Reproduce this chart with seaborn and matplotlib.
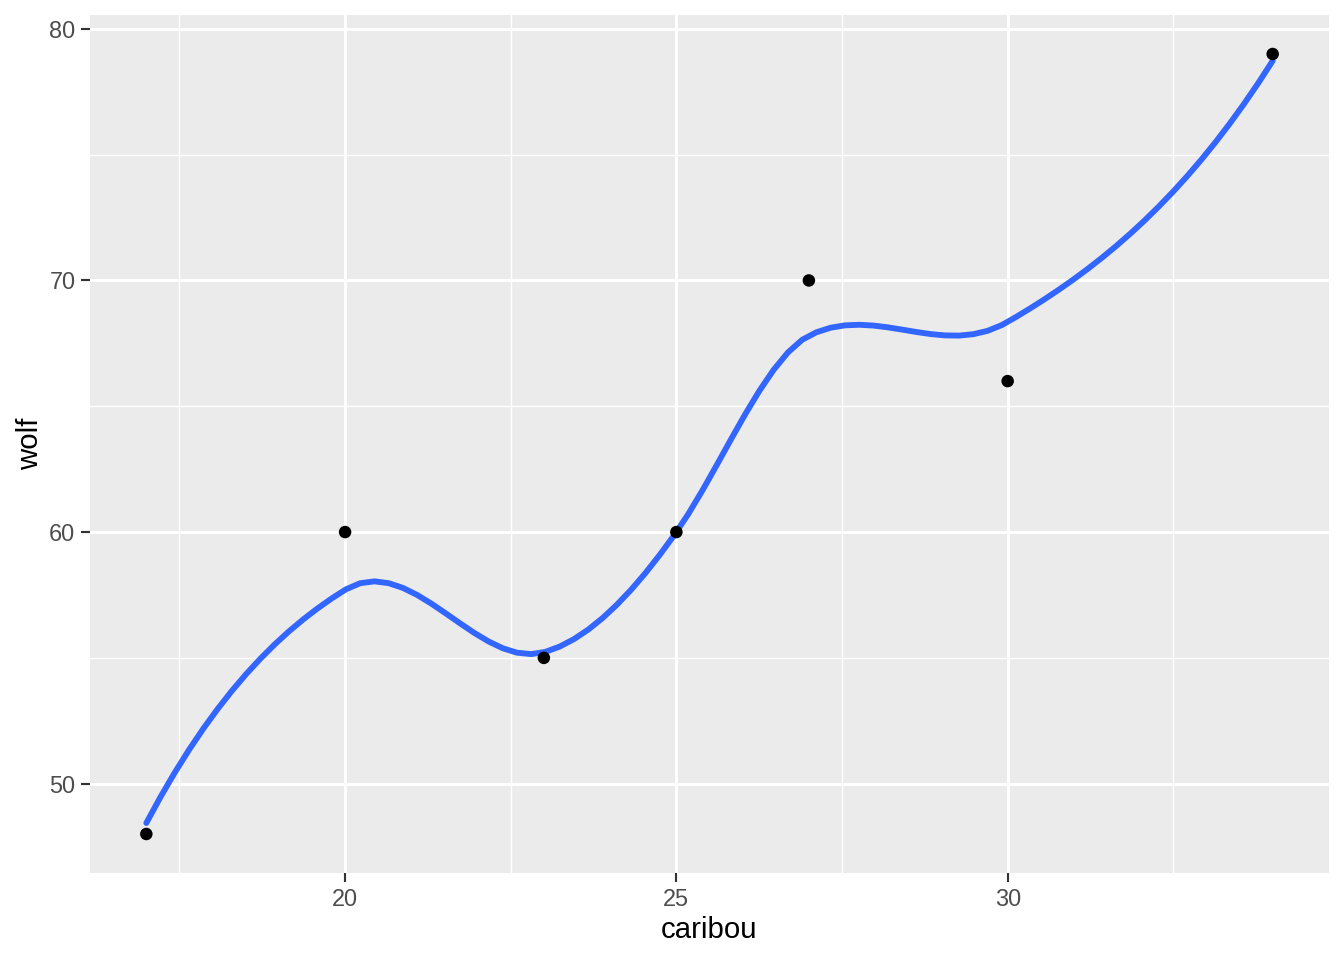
import numpy as np
import pandas as pd
import seaborn as sns
import matplotlib.pyplot as plt
from matplotlib.ticker import MultipleLocator

# data
caribou = [17, 20, 23, 25, 27, 30, 34]
wolf = [48, 60, 55, 60, 70, 66, 79]


def local_fit(x, y, x0, q):
    # weighted local quadratic, tricube weights on the q nearest points
    d = np.abs(x - x0)
    h = np.sort(d)[q - 1]
    w = np.clip(1 - (d / h) ** 3, 0, None) ** 3
    X = np.column_stack([np.ones_like(x), x - x0, (x - x0) ** 2])
    W = np.diag(w)
    beta = np.linalg.lstsq(X.T @ W @ X, X.T @ W @ y, rcond=None)[0]
    return beta[0], beta[1]


def kd_vertices(xs, fc):
    # 1-d version of the kd tree loess builds (split at median until <= fc points)
    xs = np.sort(xs)
    verts = set()

    def split(pts):
        if len(pts) <= fc:
            return
        m = (len(pts) + 1) // 2 - 1
        verts.add(pts[m])
        split(pts[:m + 1])
        split(pts[m + 1:])

    split(list(xs))
    return sorted(verts)


def loess(x, y, grid, span=0.75):
    """loess like R's default: fits at kd-tree vertices + cubic hermite interpolation"""
    x = np.asarray(x, float)
    y = np.asarray(y, float)
    n = len(x)
    q = int(np.floor(n * span))
    margin = 0.005 * (x.max() - x.min())
    fc = int(np.floor(n * span * 0.2))
    verts = [x.min() - margin] + kd_vertices(x, fc) + [x.max() + margin]
    verts = np.array(sorted(set(verts)))
    vals, slopes = zip(*[local_fit(x, y, v, q) for v in verts])
    vals, slopes = np.array(vals), np.array(slopes)
    out = []
    for g in grid:
        i = np.clip(np.searchsorted(verts, g) - 1, 0, len(verts) - 2)
        a, b = verts[i], verts[i + 1]
        hh = b - a
        t = (g - a) / hh
        h00 = 2 * t ** 3 - 3 * t ** 2 + 1
        h10 = t ** 3 - 2 * t ** 2 + t
        h01 = -2 * t ** 3 + 3 * t ** 2
        h11 = t ** 3 - t ** 2
        out.append(h00 * vals[i] + h10 * hh * slopes[i] + h01 * vals[i + 1] + h11 * hh * slopes[i + 1])
    return np.array(out)


df = pd.DataFrame({"caribou": caribou, "wolf": wolf})
grid = np.linspace(min(caribou), max(caribou), 80)
smooth = pd.DataFrame({"caribou": grid, "wolf": loess(caribou, wolf, grid)})

sns.set_theme(style="darkgrid")
plt.rcParams["font.family"] = ["Liberation Sans", "DejaVu Sans"]

fig = plt.figure(figsize=(7, 5), dpi=192)
ax = fig.add_axes([90 / 1344, 1 - 873 / 960, (1329 - 90) / 1344, (873 - 15) / 960])
ax.set_facecolor("#EBEBEB")

sns.lineplot(data=smooth, x="caribou", y="wolf", color="#3366FF", linewidth=2.2, ax=ax, zorder=3)
sns.scatterplot(data=df, x="caribou", y="wolf", color="black", s=22, edgecolor="none", ax=ax, zorder=4)

ax.set_xlim(16.15, 34.85)
ax.set_ylim(46.45, 80.55)
ax.xaxis.set_major_locator(MultipleLocator(5))
ax.xaxis.set_minor_locator(MultipleLocator(2.5))
ax.yaxis.set_major_locator(MultipleLocator(10))
ax.yaxis.set_minor_locator(MultipleLocator(5))
ax.grid(which="major", color="white", linewidth=1.1)
ax.grid(which="minor", color="white", linewidth=0.55)
for s in ax.spines.values():
    s.set_visible(False)
ax.tick_params(which="major", length=3.5, width=0.8, color="#333333",
               labelsize=8.8, labelcolor="#4D4D4D", pad=2)
ax.tick_params(which="minor", length=0)
ax.tick_params(axis="x", bottom=True)
ax.tick_params(axis="y", left=True)
ax.set_xlabel("caribou", fontsize=11, color="black", labelpad=2)
ax.set_ylabel("wolf", fontsize=11, color="black", labelpad=2)

fig.savefig("out.png", dpi=192)
